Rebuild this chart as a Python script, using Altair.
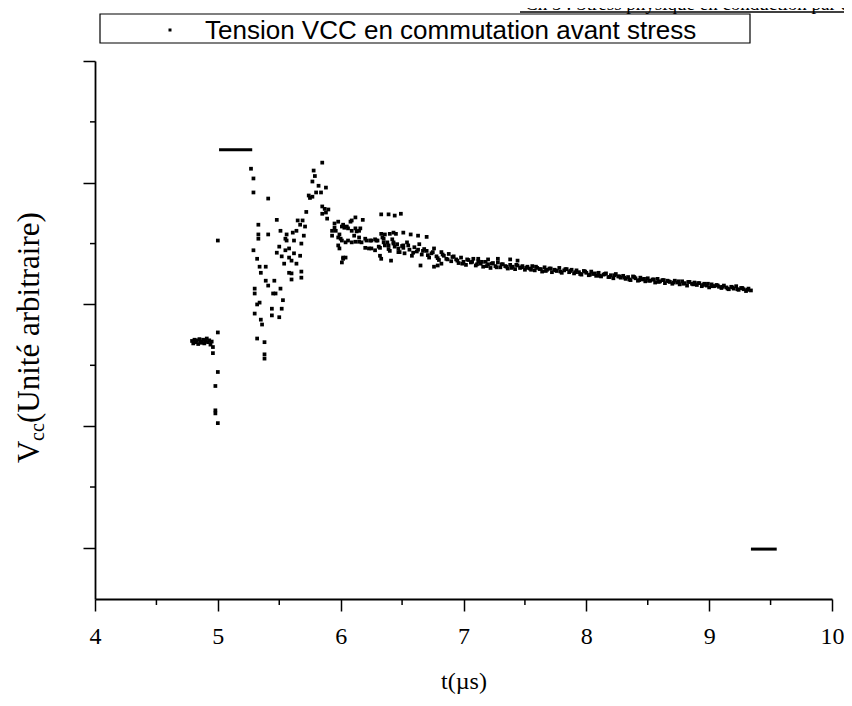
import altair as alt
import pandas as pd

# ---------------- data ----------------
x_ticks_major = [4, 5, 6, 7, 8, 9, 10]
x_ticks_minor = [4.5, 5.5, 6.5, 7.5, 8.5, 9.5]
y_ticks_major = [1, 3, 5, 7, 9]
y_ticks_minor = [2, 4, 6, 8]

pre_t = [4.79, 4.80, 4.81, 4.82, 4.83, 4.84, 4.85, 4.86, 4.87, 4.88, 4.89, 4.90, 4.91, 4.92, 4.93, 4.94, 4.95, 4.96]
pre_v = [4.40, 4.36, 4.42, 4.38, 4.41, 4.35, 4.43, 4.39, 4.37, 4.42, 4.36, 4.40, 4.44, 4.38, 4.41, 4.34, 4.39, 4.30]

drop_t = [4.96, 4.98, 4.98, 4.98, 5.00, 5.00, 5.00, 5.00]
drop_v = [4.20, 3.66, 3.26, 3.21, 3.05, 3.89, 4.54, 6.05]

burst_t = [5.27, 5.29, 5.29, 5.41, 5.33, 5.33, 5.33, 5.41, 5.29, 5.32, 5.34, 5.39, 5.35, 5.39, 5.46, 5.41, 5.30, 5.30,
           5.45, 5.47, 5.51, 5.34, 5.32, 5.53, 5.44, 5.52, 5.30, 5.35, 5.44, 5.50, 5.36, 5.32, 5.38, 5.38, 5.38]
burst_v = [7.23, 7.07, 6.84, 6.74, 6.31, 6.15, 6.08, 6.15, 5.89, 5.75, 5.62, 5.62, 5.52, 5.39, 5.39, 5.31, 5.26, 5.18,
           5.18, 5.18, 5.26, 5.03, 5.00, 5.07, 4.93, 4.93, 4.85, 4.75, 4.82, 4.79, 4.67, 4.44, 4.38, 4.18, 4.11]

mid_t = [5.48, 5.51, 5.56, 5.55, 5.61, 5.64, 5.65, 5.69, 5.67, 5.70, 5.62, 5.56, 5.68, 5.50, 5.48, 5.55, 5.58, 5.62,
         5.52, 5.58, 5.67, 5.60, 5.64, 5.54, 5.58, 5.60, 5.68, 5.60, 5.68]
mid_v = [6.39, 6.21, 6.15, 6.08, 6.18, 6.21, 6.38, 6.38, 6.31, 6.13, 6.05, 6.05, 6.00, 5.95, 5.85, 5.89, 5.92, 5.84,
         5.79, 5.77, 5.80, 5.72, 5.67, 5.67, 5.52, 5.51, 5.54, 5.41, 5.44]

peak_t = [5.85, 5.78, 5.79, 5.77, 5.82, 5.88, 5.80, 5.84, 5.74, 5.77, 5.75, 5.72, 5.85, 5.87, 5.90, 5.85, 5.88, 5.71]
peak_v = [7.33, 7.20, 7.11, 7.02, 6.95, 6.92, 6.84, 6.84, 6.79, 6.77, 6.75, 6.52, 6.61, 6.57, 6.56, 6.49, 6.51, 6.28]

settle_t = [5.95, 5.98, 5.95, 5.93, 5.96, 6.01, 6.03, 6.06, 5.99, 6.00, 6.12, 6.18, 6.09, 6.09, 6.13, 6.16, 6.11, 6.15,
            6.01, 6.04, 6.06, 6.09, 6.12, 6.15, 6.17, 6.20, 6.24, 6.28, 6.20, 6.23, 6.25, 6.28, 5.99, 6.02, 6.04, 6.01,
            5.89, 6.08, 6.02, 6.05, 6.12, 6.15, 5.93, 5.98, 6.21, 6.25, 6.29, 6.33, 6.36, 6.40, 6.43, 6.45, 6.51, 5.98,
            6.35, 6.39, 6.43, 6.47, 6.51, 6.02, 6.32, 6.33, 6.65, 6.79, 6.82, 6.33, 6.39, 6.44, 6.49, 6.41, 6.76, 6.57,
            6.63, 6.70, 7.12, 7.20, 7.28, 7.38, 7.44]
settle_v = [6.33, 6.36, 6.26, 6.21, 6.21, 6.28, 6.26, 6.25, 6.15, 6.08, 6.43, 6.39, 6.38, 6.21, 6.20, 6.25, 6.13, 6.10,
            6.05, 6.02, 6.05, 6.02, 6.03, 6.03, 6.02, 6.08, 6.05, 6.07, 5.93, 5.92, 5.92, 5.89, 5.92, 5.77, 5.77, 5.69,
            6.41, 6.36, 6.31, 6.28, 6.25, 6.21, 6.13, 6.10, 6.05, 6.05, 6.05, 6.16, 6.15, 6.16, 6.18, 6.16, 6.18, 5.97,
            6.02, 5.97, 6.02, 5.92, 5.97, 5.75, 5.80, 5.75, 5.64, 5.64, 5.67, 6.48, 6.48, 6.46, 6.49, 5.72, 5.62, 6.15,
            6.13, 6.11, 5.75, 5.74, 5.75, 5.74, 5.72]

tail_t = [6.30, 6.32, 6.34, 6.36, 6.38, 6.40, 6.42, 6.44, 6.46, 6.48,
          6.50, 6.52, 6.54, 6.56, 6.58, 6.60, 6.62, 6.64, 6.66, 6.68,
          6.70, 6.72, 6.74, 6.76, 6.78, 6.80, 6.82, 6.84, 6.86, 6.88,
          6.90, 6.92, 6.94, 6.96, 6.98, 7.00, 7.02, 7.04, 7.06, 7.08,
          7.10, 7.12, 7.14, 7.16, 7.18, 7.20, 7.22, 7.24, 7.26, 7.28,
          7.30, 7.32, 7.34, 7.36, 7.38, 7.40, 7.42, 7.44, 7.46, 7.48,
          7.50, 7.52, 7.54, 7.56, 7.58, 7.60, 7.62, 7.64, 7.66, 7.68,
          7.70, 7.72, 7.74, 7.76, 7.78, 7.80, 7.82, 7.84, 7.86, 7.88,
          7.90, 7.92, 7.94, 7.96, 7.98, 8.00, 8.02, 8.04, 8.06, 8.08,
          8.10, 8.12, 8.14, 8.16, 8.18, 8.20, 8.22, 8.24, 8.26, 8.28,
          8.30, 8.32, 8.34, 8.36, 8.38, 8.40, 8.42, 8.44, 8.46, 8.48,
          8.50, 8.52, 8.54, 8.56, 8.58, 8.60, 8.62, 8.64, 8.66, 8.68,
          8.70, 8.72, 8.74, 8.76, 8.78, 8.80, 8.82, 8.84, 8.86, 8.88,
          8.90, 8.92, 8.94, 8.96, 8.98, 9.00, 9.02, 9.04, 9.06, 9.08,
          9.10, 9.12, 9.14, 9.16, 9.18, 9.20, 9.22, 9.24, 9.26, 9.28,
          9.30, 9.32, 9.34]
tail_v = [6.05, 5.93, 6.10, 5.97, 6.02, 5.88, 6.07, 5.95, 5.99, 5.86,
          5.96, 5.84, 6.02, 5.90, 5.80, 5.94, 5.87, 5.99, 5.82, 5.91,
          5.88, 5.77, 5.84, 5.92, 5.79, 5.73, 5.86, 5.80, 5.75, 5.83,
          5.71, 5.79, 5.74, 5.68, 5.77, 5.70, 5.65, 5.73, 5.69, 5.75,
          5.64, 5.71, 5.67, 5.62, 5.70, 5.66, 5.60, 5.68, 5.63, 5.69,
          5.61, 5.66, 5.63, 5.59, 5.65, 5.62, 5.58, 5.64, 5.60, 5.63,
          5.57, 5.62, 5.59, 5.63, 5.56, 5.60, 5.58, 5.54, 5.61, 5.57,
          5.59, 5.53, 5.57, 5.55, 5.60, 5.52, 5.56, 5.58, 5.53, 5.57,
          5.51, 5.56, 5.53, 5.49, 5.55, 5.52, 5.48, 5.54, 5.50, 5.47,
          5.52, 5.46, 5.49, 5.51, 5.45, 5.48, 5.43, 5.50, 5.46, 5.44,
          5.47, 5.42, 5.45, 5.40, 5.46, 5.43, 5.39, 5.44, 5.41, 5.38,
          5.43, 5.39, 5.41, 5.36, 5.42, 5.38, 5.40, 5.35, 5.39, 5.37,
          5.34, 5.39, 5.36, 5.33, 5.38, 5.35, 5.31, 5.37, 5.34, 5.36,
          5.32, 5.35, 5.30, 5.34, 5.31, 5.28, 5.33, 5.30, 5.32, 5.29,
          5.27, 5.31, 5.28, 5.25, 5.29, 5.26, 5.30, 5.24, 5.27, 5.25,
          5.22, 5.26, 5.23]

tail2_t = [6.31, 6.35, 6.39, 6.43, 6.47, 6.51, 6.55, 6.59, 6.63, 6.67,
           6.71, 6.75, 6.79, 6.83, 6.87, 6.91, 6.95, 6.99, 7.03, 7.07,
           7.11, 7.15, 7.19, 7.23, 7.27, 7.31, 7.35, 7.39, 7.43, 7.47,
           7.51, 7.55, 7.59, 7.63, 7.67, 7.71, 7.75, 7.79, 7.83, 7.87,
           7.91, 7.95, 7.99, 8.03, 8.07, 8.11, 8.15, 8.19, 8.23, 8.27,
           8.31, 8.35, 8.39, 8.43, 8.47, 8.51, 8.55, 8.59, 8.63, 8.67,
           8.71, 8.75, 8.79, 8.83, 8.87, 8.91, 8.95, 8.99, 9.03, 9.07,
           9.11, 9.15, 9.19, 9.23, 9.27, 9.31]
tail2_v = [5.95, 6.08, 5.91, 6.00, 5.86, 5.93, 5.97, 5.85, 5.90, 5.88,
           5.81, 5.86, 5.76, 5.82, 5.74, 5.78, 5.72, 5.67, 5.74, 5.70,
           5.66, 5.70, 5.63, 5.67, 5.61, 5.66, 5.62, 5.60, 5.65, 5.61,
           5.60, 5.57, 5.62, 5.58, 5.55, 5.59, 5.56, 5.54, 5.58, 5.55,
           5.53, 5.50, 5.54, 5.49, 5.51, 5.47, 5.50, 5.45, 5.48, 5.46,
           5.44, 5.41, 5.45, 5.40, 5.42, 5.39, 5.41, 5.37, 5.40, 5.38,
           5.36, 5.38, 5.34, 5.37, 5.33, 5.35, 5.32, 5.34, 5.30, 5.31,
           5.29, 5.26, 5.28, 5.25, 5.27, 5.24]

# flat saturated segments of the trace
sat_t0 = [5.01, 9.34]
sat_t1 = [5.28, 9.55]
sat_v = [7.54, 0.98]

# ---------------- tables ----------------
all_t = pre_t + drop_t + burst_t + mid_t + peak_t + settle_t + tail_t + tail2_t
all_v = pre_v + drop_v + burst_v + mid_v + peak_v + settle_v + tail_v + tail2_v
pts = pd.DataFrame({"t": all_t, "v": all_v})
sat = pd.DataFrame({"t": sat_t0, "t1": sat_t1, "v": sat_v})
xminor = pd.DataFrame({"t": x_ticks_minor})
yminor = pd.DataFrame({"v": y_ticks_minor})
one = pd.DataFrame({"a": [0]})

SERIF = "Liberation Serif"
W, H = 737, 538

xscale = alt.Scale(domain=[4, 10], nice=False, zero=False)
yscale = alt.Scale(domain=[0.16, 9], nice=False, zero=False)

x_axis = alt.Axis(values=x_ticks_major, format="d", tickSize=12, tickWidth=1.5, domainWidth=1.8,
                  domainColor="black", tickColor="black", labelColor="black",
                  labelFont=SERIF, labelFontSize=24, labelPadding=13, labelFlush=False,
                  grid=False, title="t(µs)", titleFont=SERIF, titleFontSize=24,
                  titleFontWeight="normal", titleColor="black", titlePadding=21)
y_axis = alt.Axis(values=y_ticks_major, tickSize=12, tickWidth=1.5, domainWidth=1.8,
                  domainColor="black", tickColor="black", labels=False, grid=False, title=None)

X = alt.X("t:Q", scale=xscale, axis=x_axis, title="t(µs)")
Y = alt.Y("v:Q", scale=yscale, axis=y_axis, title=None)

points = alt.Chart(pts).mark_square(size=14, color="black", opacity=1).encode(x=X, y=Y)

bars = alt.Chart(sat).mark_rule(color="black", strokeWidth=3).encode(x=X, x2="t1:Q", y=Y)

xmin_ticks = alt.Chart(xminor).mark_rule(color="black", strokeWidth=1.5).encode(
    x=X, y=alt.value(H), y2=alt.value(H + 6))
ymin_ticks = alt.Chart(yminor).mark_rule(color="black", strokeWidth=1.5).encode(
    y=Y, x=alt.value(0), x2=alt.value(-5))

# header (page running title, cut at the top) and its underline
header = alt.Chart(one).mark_text(align="left", baseline="alphabetic", font=SERIF,
                                  fontSize=19, color="black").encode(
    x=alt.value(430), y=alt.value(-51), text=alt.value("Ch 5 : Stress physique en conduction par courant"))
header_line = alt.Chart(one).mark_rule(color="black", strokeWidth=1.5).encode(
    x=alt.value(425), x2=alt.value(757), y=alt.value(-49))

# legend box
leg_box = alt.Chart(one).mark_rect(fill="white", stroke="black", strokeWidth=1.2).encode(
    x=alt.value(5), x2=alt.value(655), y=alt.value(-47), y2=alt.value(-18))
leg_dot = alt.Chart(one).mark_square(size=9, color="black", opacity=1).encode(
    x=alt.value(75), y=alt.value(-31))
leg_text = alt.Chart(one).mark_text(align="left", baseline="alphabetic",
                                    font="Liberation Sans",
                                    fontSize=26, color="black").encode(
    x=alt.value(110), y=alt.value(-22), text=alt.value("Tension VCC en commutation avant stress"))

# y title: V with subscript cc, rotated
yt_V = alt.Chart(one).mark_text(align="left", baseline="alphabetic", font=SERIF, fontSize=31,
                                angle=270, color="black").encode(
    x=alt.value(-56), y=alt.value(402), text=alt.value("V"))
yt_cc = alt.Chart(one).mark_text(align="left", baseline="alphabetic", font=SERIF, fontSize=20,
                                 angle=270, color="black").encode(
    x=alt.value(-51), y=alt.value(380), text=alt.value("cc"))
yt_rest = alt.Chart(one).mark_text(align="left", baseline="alphabetic", font=SERIF, fontSize=31,
                                   angle=270, color="black").encode(
    x=alt.value(-56), y=alt.value(362), text=alt.value("(Unité arbitraire)"))

chart = alt.layer(
    points, bars, xmin_ticks, ymin_ticks,
    header, header_line, leg_box, leg_dot, leg_text,
    yt_V, yt_cc, yt_rest,
).properties(
    width=W, height=H,
    autosize=alt.AutoSizeParams(type="none"),
    padding={"left": 87, "top": 53, "right": 12, "bottom": 97},
    background="white",
).configure_view(stroke=None)

chart.save("out.html", embed_options={"renderer": "svg", "actions": False})
